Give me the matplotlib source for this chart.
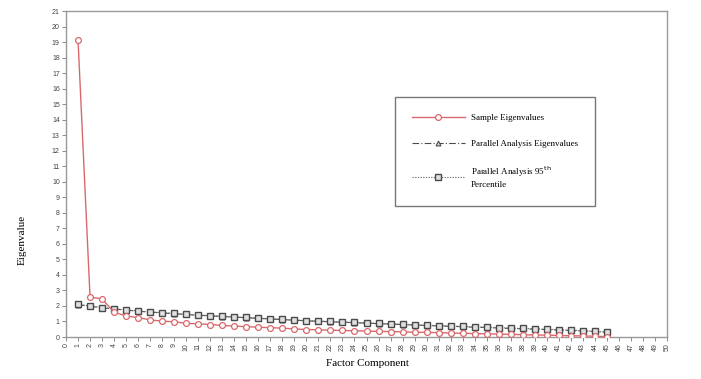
import matplotlib
matplotlib.use("Agg")
import matplotlib.pyplot as plt
import numpy as np

components = list(range(1, 46))
sample_eigen = [19.15, 2.58, 2.45, 1.6, 1.35, 1.25, 1.1, 1.02, 0.98, 0.88,
                0.85, 0.8, 0.75, 0.7, 0.67, 0.63, 0.6, 0.57, 0.52, 0.48,
                0.46, 0.44, 0.42, 0.4, 0.38, 0.36, 0.35, 0.33, 0.31, 0.3,
                0.28, 0.26, 0.24, 0.22, 0.2, 0.19, 0.17, 0.15, 0.13, 0.12,
                0.1, 0.08, 0.07, 0.05, 0.02]
parallel_mean = [2.08, 1.98, 1.88, 1.8, 1.73, 1.66, 1.6, 1.55, 1.5, 1.45,
                 1.4, 1.36, 1.32, 1.28, 1.24, 1.2, 1.16, 1.12, 1.08, 1.04,
                 1.01, 0.98, 0.95, 0.92, 0.89, 0.86, 0.83, 0.8, 0.77, 0.74,
                 0.71, 0.69, 0.66, 0.63, 0.61, 0.58, 0.55, 0.53, 0.5, 0.48,
                 0.45, 0.42, 0.39, 0.35, 0.3]
parallel_95 = [2.1, 2.0, 1.9, 1.82, 1.75, 1.68, 1.62, 1.57, 1.52, 1.47,
               1.42, 1.38, 1.34, 1.3, 1.26, 1.22, 1.18, 1.14, 1.1, 1.06,
               1.03, 1.0, 0.97, 0.94, 0.91, 0.88, 0.85, 0.82, 0.79, 0.76,
               0.73, 0.71, 0.68, 0.65, 0.63, 0.6, 0.57, 0.55, 0.52, 0.5,
               0.47, 0.44, 0.41, 0.37, 0.32]

red = '#d9686c'
dark = '#4a4a4a'
serif = ['Liberation Serif', 'DejaVu Serif']
sans = ['Liberation Sans', 'DejaVu Sans']

fig = plt.figure(figsize=(7.01, 3.79), dpi=100)
ax = fig.add_axes([66/701, 1-337/379, (667-66)/701, (337-11)/379])

l1, = ax.plot(components, sample_eigen, color=red, lw=1.0, marker='o', ms=4.2,
              mfc='white', mec=red, mew=0.9, zorder=3)
l2, = ax.plot(components, parallel_mean, color=dark, lw=0.8, ls=(0, (6, 2, 1, 2)),
              marker='^', ms=3.5, mfc='#dddddd', mec=dark, mew=0.8, zorder=2)
l3, = ax.plot(components, parallel_95, color='#777777', lw=0.8, ls=(0, (1.2, 1.2)),
              marker='s', ms=4.2, mfc='#e0e0e0', mec=dark, mew=1.0, zorder=2)

ax.set_xlim(0, 50)
ax.set_ylim(0, 21)
ax.set_xticks(range(0, 51))
ax.set_yticks(range(0, 22))
ax.set_xticklabels([str(i) for i in range(0, 51)], rotation=90, fontsize=5,
                   color='#444444', family=sans)
ax.set_yticklabels([str(i) for i in range(0, 22)], fontsize=5,
                   color='#444444', family=sans)
ax.tick_params(direction='out', length=3, width=0.6, color='#777777', pad=1.5)
for s in ax.spines.values():
    s.set_color('#999999')
    s.set_linewidth(1.0)

fig.text(22/701, 1-240/379, 'Eigenvalue', rotation=90, ha='center', va='center',
         fontsize=8, family=serif)
fig.text(367/701, 1-363/379, 'Factor Component', ha='center', va='center',
         fontsize=8, family=serif)

leg = ax.legend([l1, l2, l3],
                ['Sample Eigenvalues', 'Parallel Analysis Eigenvalues',
                 'Parallel Analysis 95$^{\\mathrm{th}}$\nPercentile'],
                loc='upper left', bbox_to_anchor=(395/701, 1-97/379),
                bbox_transform=fig.transFigure, prop={'family': serif, 'size': 6.5},
                handlelength=5.8, handletextpad=0.7, labelspacing=1.9,
                borderpad=1.9, fancybox=False, framealpha=1,
                edgecolor='#777777', borderaxespad=0)
leg.get_frame().set_linewidth(1.0)

fig.savefig('out.png', dpi=100)
